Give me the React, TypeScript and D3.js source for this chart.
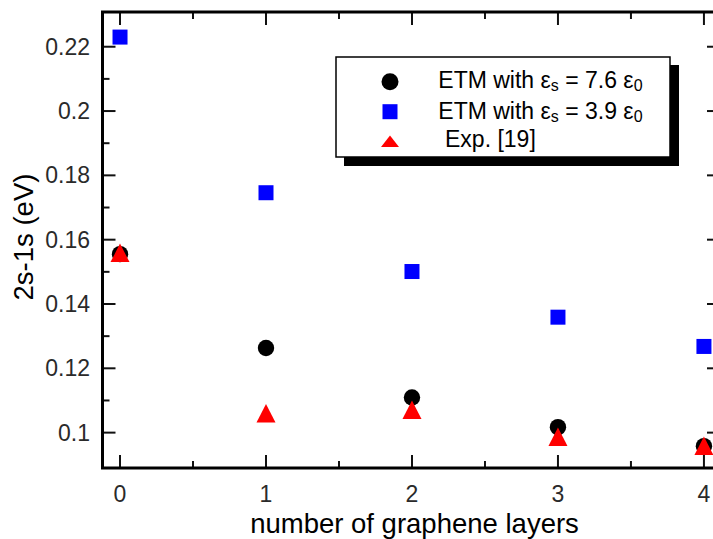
import React from "react";
import * as d3 from "d3";

// Number of graphene layers
const layers = [0, 1, 2, 3, 4];
// 2s-1s exciton transition energy (eV)
const etm76 = [0.1555, 0.1263, 0.1109, 0.1017, 0.0958];
const etm39 = [0.223, 0.1746, 0.1501, 0.1359, 0.1268];
const expRef19 = [0.1559, 0.106, 0.1071, 0.0987, 0.0959];

const yMajorTicks = [0.1, 0.12, 0.14, 0.16, 0.18, 0.2, 0.22];
const yMinorTicks = [0.11, 0.13, 0.15, 0.17, 0.19, 0.21];
const xMajorTicks = [0, 1, 2, 3, 4];
const xMinorTicks = [0.5, 1.5, 2.5, 3.5];

const W = 713;
const H = 539;
const left = 102.5;
const right = 720;
const top = 12;
const bottom = 468;

const x = d3.scaleLinear().domain([-0.12, 4.11]).range([left, right]);
const y = d3.scaleLinear().domain([0.089, 0.2308]).range([bottom, top]);

const FONT = "'Liberation Sans', Arial, Helvetica, sans-serif";

const triPath = (cx: number, cy: number, w: number, h: number) =>
  `M${cx},${cy - h / 2}L${cx + w / 2},${cy + h / 2}L${cx - w / 2},${cy + h / 2}Z`;

export default function App() {
  const majorLen = 13;
  const minorLen = 7;
  return (
    <svg
      width={W}
      height={H}
      style={{ position: "absolute", left: 0, top: 0, background: "#fff" }}
      fontFamily={FONT}
    >
      {/* ticks */}
      <g stroke="#111" strokeWidth={2}>
        {yMajorTicks.map((v) => (
          <g key={"ym" + v}>
            <line x1={left} x2={left + majorLen} y1={y(v)} y2={y(v)} />
            <line x1={right} x2={right - majorLen} y1={y(v)} y2={y(v)} />
          </g>
        ))}
        {yMinorTicks.map((v) => (
          <g key={"yn" + v}>
            <line x1={left} x2={left + minorLen} y1={y(v)} y2={y(v)} />
            <line x1={right} x2={right - minorLen} y1={y(v)} y2={y(v)} />
          </g>
        ))}
        {xMajorTicks.map((v) => (
          <g key={"xm" + v}>
            <line x1={x(v)} x2={x(v)} y1={bottom} y2={bottom - majorLen} />
            <line x1={x(v)} x2={x(v)} y1={top} y2={top + majorLen} />
          </g>
        ))}
        {xMinorTicks.map((v) => (
          <g key={"xn" + v}>
            <line x1={x(v)} x2={x(v)} y1={bottom} y2={bottom - minorLen} />
            <line x1={x(v)} x2={x(v)} y1={top} y2={top + minorLen} />
          </g>
        ))}
      </g>

      {/* frame */}
      <rect
        x={left}
        y={top}
        width={right - left}
        height={bottom - top}
        fill="none"
        stroke="#000"
        strokeWidth={3}
      />

      {/* tick labels */}
      <g fill="#2a2a2a" fontSize={23}>
        {yMajorTicks.map((v) => (
          <text key={"yl" + v} x={90} y={y(v) + 8} textAnchor="end">
            {d3.format("")(+v.toFixed(2))}
          </text>
        ))}
        {xMajorTicks.map((v) => (
          <text key={"xl" + v} x={x(v)} y={502} textAnchor="middle">
            {v}
          </text>
        ))}
      </g>

      {/* axis titles */}
      <text x={414.5} y={533} textAnchor="middle" fontSize={27.5} fill="#000">
        number of graphene layers
      </text>
      <text
        transform={`translate(33,237) rotate(-90)`}
        textAnchor="middle"
        fontSize={27.5}
        fill="#000"
      >
        2s-1s (eV)
      </text>

      {/* data */}
      <g fill="#0000ff">
        {layers.map((l, i) => (
          <rect key={"sq" + i} x={x(l) - 7.5} y={y(etm39[i]) - 7.5} width={15} height={15} />
        ))}
      </g>
      <g fill="#000">
        {layers.map((l, i) => (
          <circle key={"c" + i} cx={x(l)} cy={y(etm76[i])} r={8.2} />
        ))}
      </g>
      <g fill="#ff0000">
        {layers.map((l, i) => (
          <path key={"t" + i} d={triPath(x(l), y(expRef19[i]), 19, 18.5)} />
        ))}
      </g>

      {/* legend */}
      <rect x={344} y={65} width={335} height={101} fill="#000" />
      <rect x={336} y={57} width={334} height={100} fill="#fff" stroke="#000" strokeWidth={1.5} />
      <circle cx={390} cy={81.7} r={8.5} fill="#000" />
      <rect x={382.5} y={104.2} width={15} height={15} fill="#0000ff" />
      <path d={triPath(390, 141.3, 18, 11.5)} fill="#ff0000" />
      <g fontSize={23} fill="#000">
        <text x={438.3} y={88.3}>
          ETM with ε<tspan fontSize={16} dy={3}>s</tspan>
          <tspan dy={-3}> = 7.6 ε</tspan>
          <tspan fontSize={16} dy={3}>0</tspan>
        </text>
        <text x={438.3} y={119}>
          ETM with ε<tspan fontSize={16} dy={3}>s</tspan>
          <tspan dy={-3}> = 3.9 ε</tspan>
          <tspan fontSize={16} dy={3}>0</tspan>
        </text>
        <text x={445} y={147.3}>
          Exp. [19]
        </text>
      </g>
    </svg>
  );
}
